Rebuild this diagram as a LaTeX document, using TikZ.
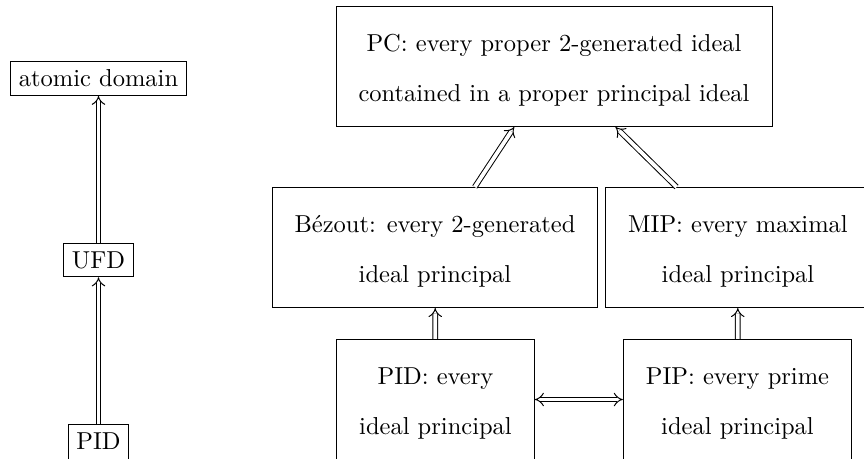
\documentclass[tikz,border=0pt]{standalone}
\usetikzlibrary{arrows.meta}
\newcommand\twolines[2]{{\renewcommand\arraystretch{1.7}\begin{tabular}{c}#1\\#2\end{tabular}}}
\begin{document}
\begin{tikzpicture}[x=0.40816pt, y=-0.40816pt,
  box/.style={draw, inner sep=3.333pt},
  bigbox/.style={draw, inner xsep=3.2pt, inner ysep=4.1pt},
  impl/.style={double, double equal sign distance, -{Implies}},
  equiv/.style={double, double equal sign distance, {Implies}-{Implies}}]
\useasboundingbox (0,0) rectangle (864,458);
\clip (0,0) rectangle (864,458);
\node[box] (atomic) at (98.5,78.5) {atomic domain};
\node[box] (ufd) at (98.5,260) {UFD};
\node[box, anchor=north, text depth=2pt] (pidl) at (98.5,424) {PID};
\node[bigbox] (pc) at (554,66.5) {\twolines{PC: every proper 2-generated ideal}{contained in a proper principal ideal}};
\node[bigbox] (bez) at (435,247.5) {\twolines{B\'ezout: every 2-generated}{ideal principal}};
\node[bigbox] (mip) at (738,247.5) {\twolines{MIP: every maximal}{ideal principal}};
\node[bigbox] (pidr) at (435.5,399.5) {\twolines{PID: every}{ideal principal}};
\node[bigbox] (pip) at (737.5,399.5) {\twolines{PIP: every prime}{ideal principal}};
\draw[impl] (ufd) -- (atomic);
\draw[impl] (pidl) -- (ufd);
\draw[impl] (bez) -- (pc);
\draw[impl] (mip) -- (pc);
\draw[impl] (pidr) -- (bez);
\draw[impl] (pip) -- (mip);
\draw[equiv] (pidr) -- (pip);
\end{tikzpicture}
\end{document}
